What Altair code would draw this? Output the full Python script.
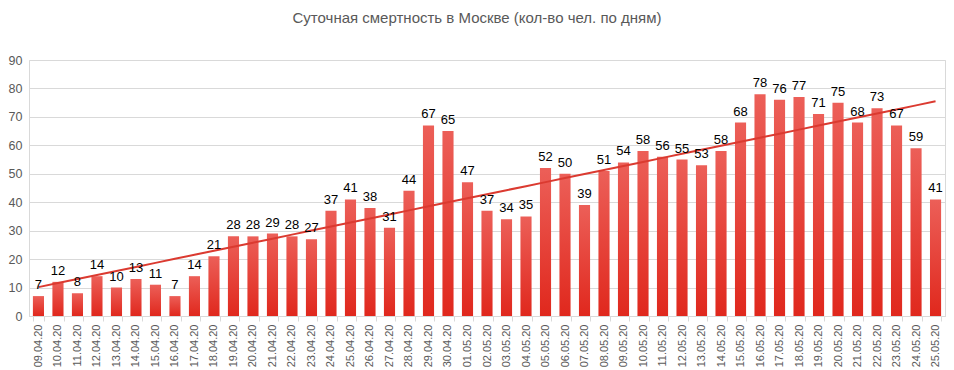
import altair as alt
import numpy as np
import pandas as pd

dates = ["09.04.20","10.04.20","11.04.20","12.04.20","13.04.20","14.04.20","15.04.20","16.04.20",
         "17.04.20","18.04.20","19.04.20","20.04.20","21.04.20","22.04.20","23.04.20","24.04.20",
         "25.04.20","26.04.20","27.04.20","28.04.20","29.04.20","30.04.20","01.05.20","02.05.20",
         "03.05.20","04.05.20","05.05.20","06.05.20","07.05.20","08.05.20","09.05.20","10.05.20",
         "11.05.20","12.05.20","13.05.20","14.05.20","15.05.20","16.05.20","17.05.20","18.05.20",
         "19.05.20","20.05.20","21.05.20","22.05.20","23.05.20","24.05.20","25.05.20"]
deaths = [7, 12, 8, 14, 10, 13, 11, 7, 14, 21, 28, 28, 29, 28, 27, 37, 41, 38, 31, 44, 67, 65,
          47, 37, 34, 35, 52, 50, 39, 51, 54, 58, 56, 55, 53, 58, 68, 78, 76, 77, 71, 75, 68,
          73, 67, 59, 41]
y_ticks = [0, 10, 20, 30, 40, 50, 60, 70, 80, 90]

idx = np.arange(len(deaths))
slope, intercept = np.polyfit(idx, deaths, 1)
trend = slope * idx + intercept

df = pd.DataFrame({"date": dates, "deaths": deaths, "trend": trend})

xenc = alt.X("date:N", sort=dates, title=None,
             scale=alt.Scale(paddingInner=0.43, paddingOuter=0.2),
             axis=alt.Axis(labelAngle=-90, labelColor="#595959", labelFontSize=11,
                           labelFont="Liberation Sans", tickBand="extent", tickSize=5,
                           tickColor="#d9d9d9", domainColor="#d9d9d9", labelPadding=3,
                           labelOverlap=False))

yscale = alt.Scale(domain=[0, 90], nice=False)
yaxis = alt.Axis(values=y_ticks, labelColor="#595959", labelFontSize=12.5,
                 labelFont="Liberation Sans", gridColor="#d9d9d9", domain=False,
                 ticks=False, labelPadding=7, labelOverlap=False)

bars = alt.Chart(df).mark_bar(
    color={"gradient": "linear", "x1": 0, "y1": 0, "x2": 0, "y2": 1,
           "stops": [{"offset": 0, "color": "#ec5f58"}, {"offset": 1, "color": "#e0281d"}]}
).encode(
    x=xenc,
    y=alt.Y("deaths:Q", title=None, scale=yscale, axis=yaxis),
)

labels = alt.Chart(df).mark_text(dy=-11, fontSize=13, font="Liberation Sans", color="#000000").encode(
    x=xenc,
    y=alt.Y("deaths:Q", title=None, scale=yscale, axis=yaxis),
    text="deaths:Q",
)

line = alt.Chart(df).mark_line(color="#db3a30", strokeWidth=2).encode(
    x=xenc,
    y=alt.Y("trend:Q", title=None, scale=yscale, axis=yaxis),
)

chart = alt.layer(bars, line, labels).properties(
    width=916, height=256,
    title=alt.TitleParams("Суточная смертность в Москве (кол-во чел. по дням)",
                          font="Liberation Sans", fontSize=15, fontWeight="normal",
                          color="#595959", offset=28, dx=-10),
    autosize=alt.AutoSizeParams(type="none"),
    padding={"left": 21, "top": 52, "right": 1, "bottom": 54},
).configure_view(stroke="#d9d9d9")

chart.save("out.html", embed_options={"renderer": "svg", "actions": False})
